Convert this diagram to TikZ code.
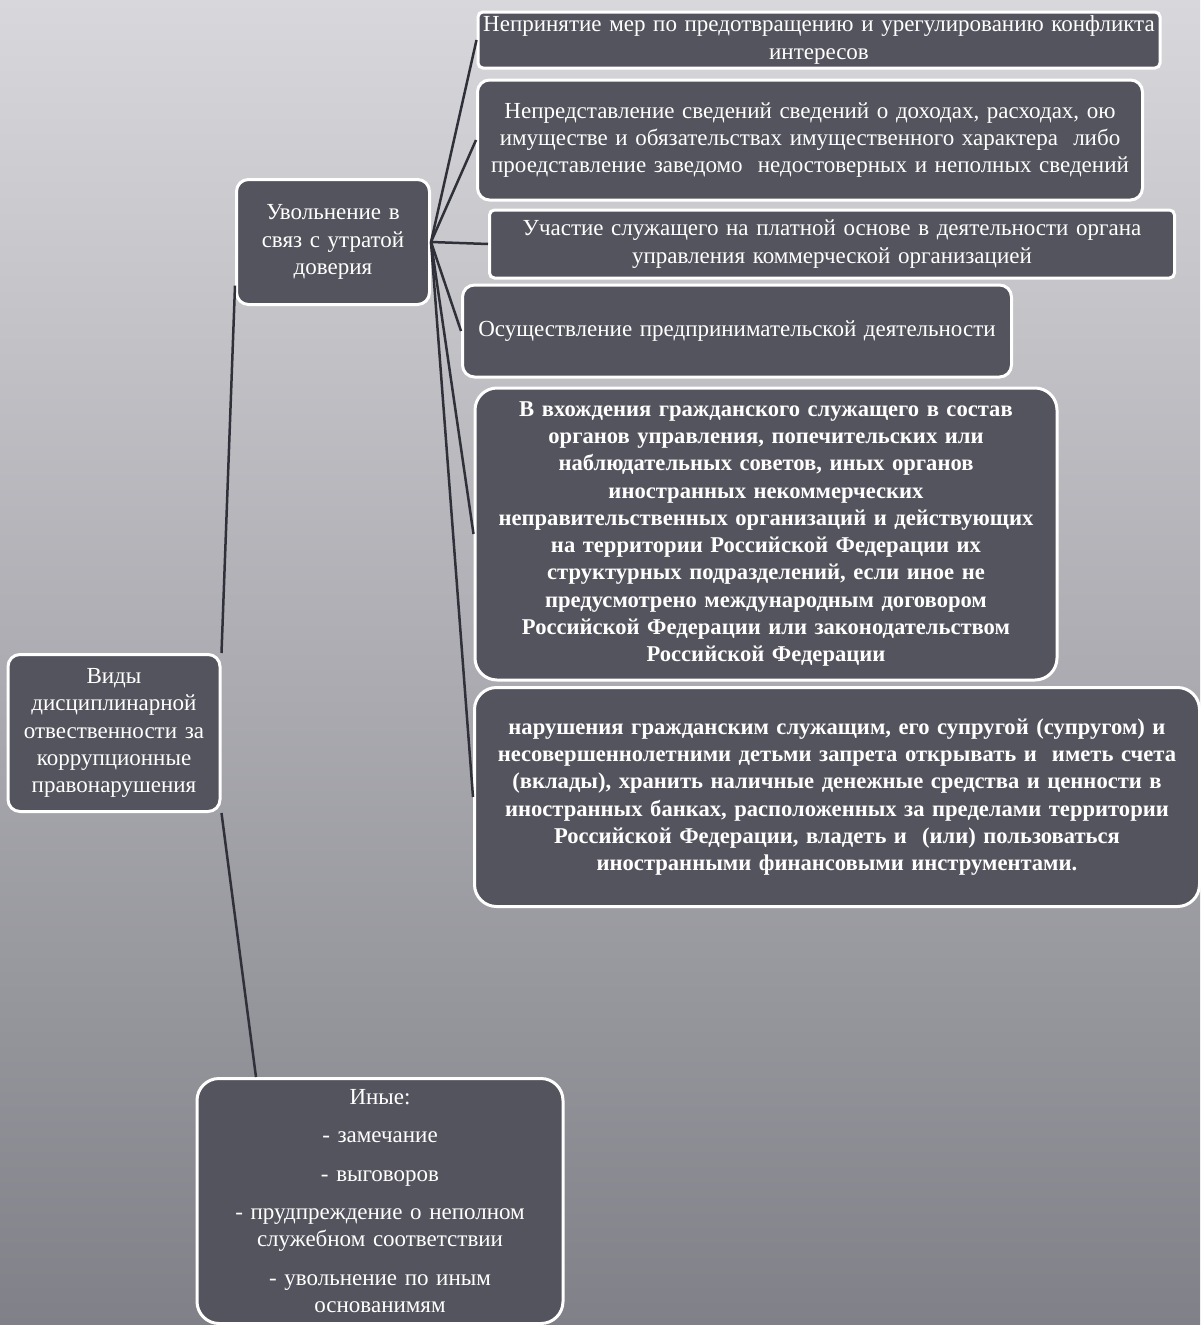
\documentclass[tikz,border=0pt]{standalone}
\usepackage{fontspec}
\setmainfont{Liberation Serif}
\definecolor{boxfill}{RGB}{84,84,94}
\definecolor{bgtop}{RGB}{216,216,220}
\definecolor{bgmid}{RGB}{178,178,184}
\definecolor{bgbottom}{RGB}{128,128,136}
\definecolor{linkgray}{RGB}{48,48,58}
\tikzset{
  box/.style={draw=white, line width=3pt, fill=boxfill, text=white, rounded corners=12pt,
    align=center, inner sep=2pt, font=\fontsize{23}{27.3}\selectfont},
  boldbox/.style={box, font=\fontsize{22.6}{27.3}\selectfont\bfseries},
  link/.style={draw=linkgray, line width=2.5pt}
}
\begin{document}
\begin{tikzpicture}[x=1pt, y=-1pt]
  \shade [top color=bgtop, middle color=bgmid, bottom color=bgbottom] (0, 0) rectangle (1200, 1325);
  \useasboundingbox (0, 0) rectangle (1200, 1325);

  \node [box, rounded corners=5pt, minimum width=682, minimum height=56, text width=678] (conf) at (819, 40)
    {Непринятие мер по предотвращению и урегулированию конфликта\\ интересов};
  \node [box, minimum width=665, minimum height=120, text width=655] (decl) at (810, 140)
    {Непредставление сведений сведений о доходах, расходах, ою\\ имуществе и обязательствах имущественного характера~ либо\\ проедставление заведомо~ недостоверных и неполных сведений};
  \node [box, rounded corners=5pt, minimum width=685, minimum height=68, text width=675] (part) at (832, 244)
    {Участие служащего на платной основе в деятельности органа\\ управления коммерческой организацией};
  \node [box, minimum width=549, minimum height=92, text width=539] (biz) at (737, 331)
    {Осуществление предпринимательской деятельности};
  \node [boldbox, rounded corners=22pt, minimum width=582, minimum height=292, text width=572] (memb) at (766, 534)
    {В вхождения гражданского служащего в состав\\ органов управления, попечительских или\\ наблюдательных советов, иных органов\\ иностранных некоммерческих\\ неправительственных организаций и действующих\\ на территории Российской Федерации их\\ структурных подразделений, если иное не\\ предусмотрено международным договором\\ Российской Федерации или законодательством\\ Российской Федерации};
  \node [boldbox, rounded corners=22pt, minimum width=725, minimum height=219, text width=715] (forg) at (837, 797)
    {нарушения гражданским служащим, его супругой (супругом) и\\ несовершеннолетними детьми запрета открывать и~ иметь счета\\ (вклады), хранить наличные денежные средства и ценности в\\ иностранных банках, расположенных за пределами территории\\ Российской Федерации, владеть и~ (или) пользоваться\\ иностранными финансовыми инструментами.};

  \node [box, minimum width=193, minimum height=125, text width=187] (fire) at (333, 242)
    {Увольнение в\\ связ с утратой\\ доверия};
  \node [box, minimum width=212, minimum height=157, text width=206] (root) at (114, 733)
    {Виды\\ дисциплинарной\\ отвественности за\\ коррупционные\\ правонарушения};
  \node [box, rounded corners=22pt, minimum width=366, minimum height=245, text width=356] (other) at (380, 1201)
    {Иные:\\[11pt] - замечание\\[11pt] - выговоров\\[11pt] - прудпреждение о неполном\\ служебном соответствии\\[11pt] - увольнение по иным\\ основанимям};

  \draw [link] (fire.204) -- (root.north east);
  \draw [link] (root.south east) -- (other.135);
  \draw [link] (fire.east) -- (conf.west);
  \draw [link] (fire.east) -- (decl.west);
  \draw [link] (fire.east) -- (part.west);
  \draw [link] (fire.east) -- (biz.west);
  \draw [link] (fire.east) -- (memb.west);
  \draw [link] (fire.east) -- (forg.west);
\end{tikzpicture}
\end{document}
